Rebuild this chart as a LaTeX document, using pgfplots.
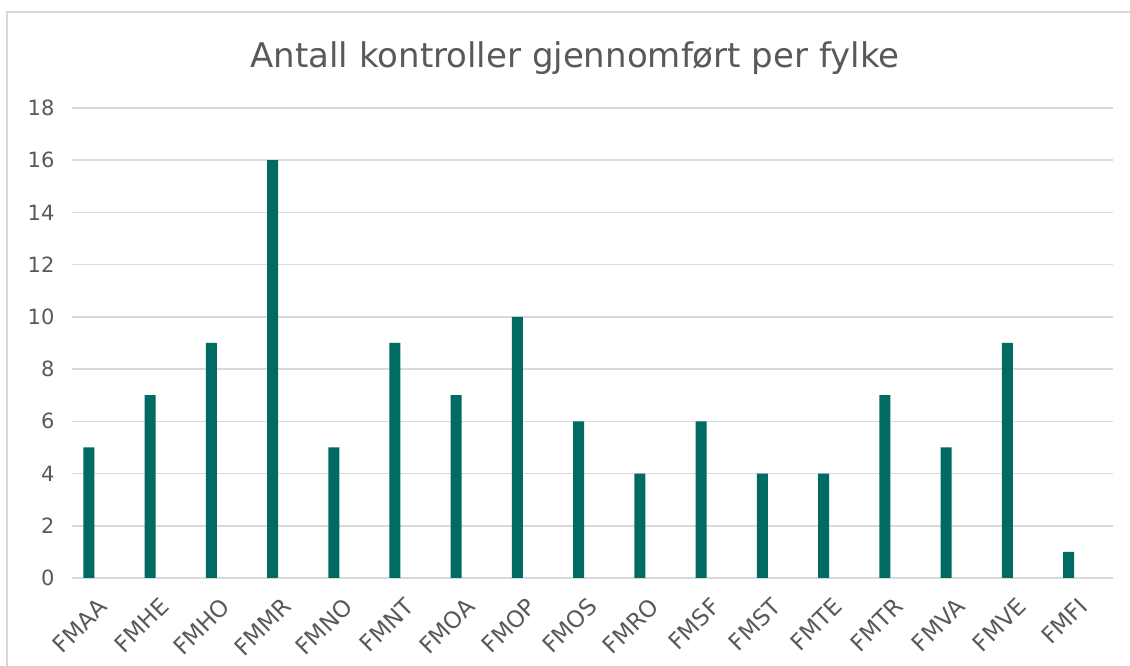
\documentclass[border=0pt]{standalone}
\usepackage{fontspec}
\setmainfont{DejaVu Sans}
\usepackage{pgfplots}
\pgfplotsset{compat=1.18}
\definecolor{barc}{RGB}{0,107,99}
\definecolor{txt}{RGB}{89,89,89}
\definecolor{gridc}{RGB}{217,217,217}
\begin{document}
\begin{tikzpicture}
\useasboundingbox (0pt,0pt) rectangle (1130pt,666pt);
\begin{scope}
\clip (0pt,0pt) rectangle (1130pt,666pt);
\draw[gridc, line width=1.5pt] (7pt,-10pt) -- (7pt,654pt) -- (1140pt,654pt);
\end{scope}
\node[anchor=base, text=txt, font=\fontsize{34}{40}\selectfont] at (575pt,598pt) {Antall kontroller gjennomført per fylke};
\begin{axis}[
  at={(72pt,88pt)}, anchor=south west,
  scale only axis, width=1041pt, height=470pt,
  xmin=-0.5, xmax=16.5, ymin=0, ymax=18,
  ytick={0,2,...,18},
  xtick={0,...,16},
  xticklabels={FMAA,FMHE,FMHO,FMMR,FMNO,FMNT,FMOA,FMOP,FMOS,FMRO,FMSF,FMST,FMTE,FMTR,FMVA,FMVE,FMFI},
  axis line style={draw=none},
  axis x line*=bottom,
  x axis line style={draw=gridc, line width=1.5pt},
  major tick length=0pt,
  ymajorgrids, grid style={gridc, line width=1.5pt},
  tick label style={text=txt, font=\fontsize{21}{24}\selectfont},
  yticklabel style={xshift=-14pt},
  xticklabel style={xshift=3pt, yshift=-22pt, rotate=45, anchor=east, font=\fontsize{23}{26}\selectfont},
  /pgf/number format/assume math mode=true,
  ybar, bar width=11pt, bar shift=-13.8pt,
  clip=false,
]
\addplot[fill=barc, draw=none] coordinates {
(0,5) (1,7) (2,9) (3,16) (4,5) (5,9) (6,7) (7,10) (8,6) (9,4) (10,6) (11,4) (12,4) (13,7) (14,5) (15,9) (16,1)
};
\end{axis}
\end{tikzpicture}
\end{document}
